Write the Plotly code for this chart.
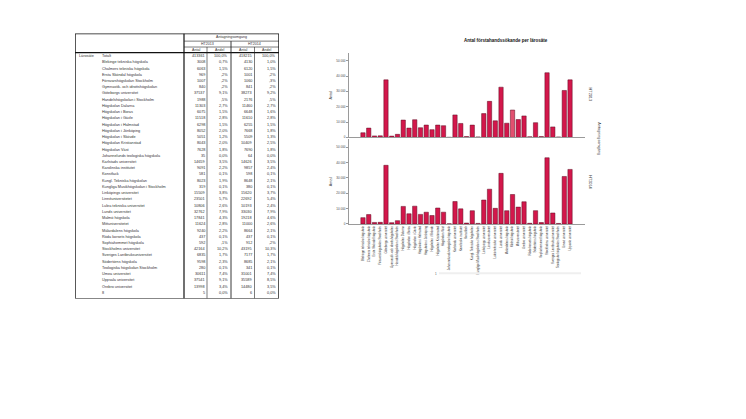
import plotly.graph_objects as go

W, H = 746, 419

# ---------------- data ----------------
table_names = [
    "Totalt", "Blekinge tekniska högskola", "Chalmers tekniska högskola", "Ersta Sköndal högskola",
    "Försvarshögskolan Stockholm", "Gymnastik- och idrottshögskolan", "Göteborgs universitet",
    "Handelshögskolan i Stockholm", "Högskolan Dalarna", "Högskolan i Borås", "Högskolan i Gävle",
    "Högskolan i Halmstad", "Högskolan i Jönköping", "Högskolan i Skövde", "Högskolan Kristianstad",
    "Högskolan Väst", "Johannelunds teologiska högskola", "Karlstads universitet", "Karolinska institutet",
    "Konstfack", "Kungl. Tekniska högskolan", "Kungliga Musikhögskolan i Stockholm",
    "Linköpings universitet", "Linnéuniversitetet", "Luleå tekniska universitet", "Lunds universitet",
    "Malmö högskola", "Mittuniversitetet", "Mälardalens högskola", "Röda korsets högskola",
    "Sophiahemmet högskola", "Stockholms universitet", "Sveriges Lantbruksuniversitet",
    "Södertörns högskola", "Teologiska högskolan Stockholm", "Umeå universitet", "Uppsala universitet",
    "Örebro universitet", "8",
]
antal_ht2013 = [
    413361, 3008, 6063, 969, 1007, 840, 37537, 1988, 11303, 6075, 11518, 6298, 8052, 5051, 8043,
    7628, 35, 14659, 9091, 581, 8023, 319, 15509, 23501, 10806, 32762, 17841, 11624, 9240, 437,
    592, 42164, 6835, 9598, 280, 30611, 37541, 13998, 5,
]
andel_ht2013 = [
    "100,0%", "0,7%", "1,5%", ",2%", ",2%", ",2%", "9,1%", ",5%", "2,7%", "1,5%", "2,8%", "1,5%",
    "2,0%", "1,2%", "2,0%", "1,8%", "0,0%", "3,5%", "2,2%", "0,1%", "1,9%", "0,1%", "3,8%", "5,7%",
    "2,6%", "7,9%", "4,3%", "2,8%", "2,2%", "0,1%", ",1%", "10,2%", "1,7%", "2,3%", "0,1%", "7,4%",
    "9,1%", "3,4%", "0,0%",
]
antal_ht2014 = [
    418215, 4130, 6120, 1001, 1060, 841, 38273, 2176, 11460, 6648, 11610, 6255, 7668, 5509, 10409,
    7690, 64, 14626, 9857, 598, 8648, 380, 15620, 22692, 10193, 33030, 19218, 11000, 8664, 437,
    912, 43195, 7177, 8685, 341, 31001, 35589, 14480, 6,
]
andel_ht2014 = [
    "100,0%", "1,0%", "1,5%", ",2%", ",3%", ",2%", "9,2%", ",5%", "2,7%", "1,6%", "2,8%", "1,5%",
    "1,8%", "1,3%", "2,5%", "1,8%", "0,0%", "3,5%", "2,4%", "0,1%", "2,1%", "0,1%", "3,7%", "5,4%",
    "2,4%", "7,9%", "4,6%", "2,6%", "2,1%", "0,1%", ",2%", "10,3%", "1,7%", "2,1%", "0,1%", "7,4%",
    "8,5%", "3,5%", "0,0%",
]
chart_order = [
    "Blekinge tekniska högskola", "Chalmers tekniska högskola", "Ersta Sköndal högskola",
    "Försvarshögskolan Stockholm", "Göteborgs universitet", "Gymnastik- och idrottshögskolan",
    "Handelshögskolan i Stockholm", "Högskolan Dalarna", "Högskolan i Borås", "Högskolan i Gävle",
    "Högskolan i Halmstad", "Högskolan i Jönköping", "Högskolan i Skövde", "Högskolan Kristianstad",
    "Högskolan Väst", "Johannelunds teologiska högskola", "Karlstads universitet",
    "Karolinska institutet", "Konstfack", "Kungl. Tekniska högskolan",
    "Kungliga Musikhögskolan i Stockholm", "Linköpings universitet", "Linnéuniversitetet",
    "Luleå tekniska universitet", "Lunds universitet", "Mälardalens högskola", "Malmö högskola",
    "Mittuniversitetet", "Örebro universitet", "Röda korsets högskola", "Södertörns högskola",
    "Sophiahemmet högskola", "Stockholms universitet", "Sveriges Lantbruksuniversitet",
    "Teologiska högskolan Stockholm", "Umeå universitet", "Uppsala universitet",
]
y_ticks = [0, 10000, 20000, 30000, 40000, 50000]
panel_labels = ["HT2013", "HT2014"]

# ---------------- helpers ----------------
def fx(p):
    return p / W

def fy(p):
    return 1 - p / H

FONT = "Liberation Sans"
BAR = "#D3174B"
BAR_LIGHT = "#E2506F"
OUTLINE = "#5c0a20"
AXIS = "#9a9a9a"
TXT = "#333"

ht13 = [antal_ht2013[table_names.index(n)] for n in chart_order]
ht14 = [antal_ht2014[table_names.index(n)] for n in chart_order]
colors13 = [BAR] * len(chart_order)
colors13[chart_order.index("Malmö högskola")] = BAR_LIGHT

fig = go.Figure()
fig.add_trace(go.Bar(x=chart_order, y=ht13, xaxis="x", yaxis="y", name=panel_labels[0],
                     marker=dict(color=colors13, line=dict(color=OUTLINE, width=0.5)),
                     showlegend=False))
fig.add_trace(go.Bar(x=chart_order, y=ht14, xaxis="x2", yaxis="y2", name=panel_labels[1],
                     marker=dict(color=BAR, line=dict(color=OUTLINE, width=0.5)),
                     showlegend=False))
# invisible anchor for table axes
fig.add_trace(go.Scatter(x=[67, 271], y=[25.7, 292], xaxis="x3", yaxis="y3", mode="markers",
                         marker=dict(opacity=0), hoverinfo="skip", showlegend=False))

x_common = dict(type="category", categoryorder="array", categoryarray=chart_order,
                range=[-2.43, 38.6], showgrid=False, zeroline=False, showline=True,
                linecolor=AXIS, linewidth=0.8, ticks="", fixedrange=True)
y_common = dict(range=[0, 55200], tickvals=y_ticks, tickformat=",d", ticks="outside",
                ticklen=2, tickcolor=AXIS, tickwidth=0.6,
                tickfont=dict(size=3, color="#444", family=FONT),
                showline=True, linecolor=AXIS, linewidth=0.8, showgrid=False,
                zeroline=False, fixedrange=True)

layout = dict(
    width=W, height=H, margin=dict(l=0, r=0, t=0, b=0),
    paper_bgcolor="white", plot_bgcolor="white",
    separators=", ", bargap=0.25,
    font=dict(family=FONT, color=TXT),
    xaxis=dict(domain=[fx(341), fx(577)], anchor="y", showticklabels=False, **x_common),
    yaxis=dict(domain=[fy(130), fy(45)], anchor="x", **y_common),
    xaxis2=dict(domain=[fx(341), fx(577)], anchor="y2", showticklabels=True, tickangle=-90,
                tickfont=dict(size=2.9, color=TXT, family=FONT), **x_common),
    yaxis2=dict(domain=[fy(217), fy(132)], anchor="x2", **y_common),
    xaxis3=dict(domain=[fx(67), fx(271)], anchor="y3", range=[67, 271], visible=False,
                fixedrange=True),
    yaxis3=dict(domain=[fy(292), fy(25.7)], anchor="x3", range=[292, 25.7], visible=False,
                fixedrange=True),
)

ann = []
def A(x, y, text, size=3.8, xanchor="left", xref="x3", yref="y3", angle=0, color=TXT):
    ann.append(dict(x=x, y=y, xref=xref, yref=yref, text=text, showarrow=False,
                    xanchor=xanchor, yanchor="middle", textangle=angle, borderpad=0,
                    font=dict(size=size, color=color, family=FONT)))

# chart texts
A(fx(498), fy(33), "<b>Antal förstahandssökande per lärosäte</b>", size=4.5, xanchor="center",
  xref="paper", yref="paper", color="#111")
A(fx(323), fy(88), "Antal", size=3.8, xanchor="center", xref="paper", yref="paper", angle=-90)
A(fx(323), fy(175), "Antal", size=3.8, xanchor="center", xref="paper", yref="paper", angle=-90)
A(fx(582), fy(87), panel_labels[0], size=3.8, xanchor="center", xref="paper", yref="paper", angle=90)
A(fx(582), fy(175), panel_labels[1], size=3.8, xanchor="center", xref="paper", yref="paper", angle=90)
A(fx(591), fy(131), "Antagningsomgång", size=3.8, xanchor="center", xref="paper", yref="paper",
  angle=90)
A(fx(428), fy(267), "1", size=3, xanchor="center", xref="paper", yref="paper", color="#555")

# table title
A(169, 21.5, "<b>Antal förstahandssökande (oavsett om de är behöriga eller ej) per lärosäte</b>",
  size=4.0, xanchor="center", color="#111")
# headers
A(223, 29.5, "Antagningsomgång", size=3.6, xanchor="center")
A(199.5, 36.2, panel_labels[0], size=3.6, xanchor="center")
A(246.5, 36.2, panel_labels[1], size=3.6, xanchor="center")
for cx, t in [(187.5, "Antal"), (211, "Andel"), (234.5, "Antal"), (258, "Andel")]:
    A(cx, 42, t, size=3.6, xanchor="center")

row0, rowh = 48.3, 6.26
A(69.5, row0, "Lärosäte", size=3.8)
for i, name in enumerate(table_names):
    y = row0 + i * rowh
    A(93, y, name)
    A(197.5, y, str(antal_ht2013[i]), xanchor="right")
    A(221, y, andel_ht2013[i], xanchor="right")
    A(244.5, y, str(antal_ht2014[i]), xanchor="right")
    A(268.5, y, andel_ht2014[i], xanchor="right")

shapes = []
def L(x0, y0, x1, y1, w=0.6, color="#222", xref="x3", yref="y3"):
    shapes.append(dict(type="line", x0=x0, y0=y0, x1=x1, y1=y1, xref=xref, yref=yref,
                       line=dict(color=color, width=w)))

# outer frame
shapes.append(dict(type="rect", x0=67, y0=25.7, x1=271, y1=292, xref="x3", yref="y3",
                   line=dict(color="#111", width=1.4)))
L(67, 44.8, 271, 44.8, w=1.2, color="#111")
L(176, 25.7, 176, 292, w=1.2, color="#111")
L(176, 33.3, 271, 33.3)
L(176, 39.2, 271, 39.2)
L(223, 33.3, 223, 292, w=0.9)
L(199, 39.2, 199, 292)
L(246.5, 39.2, 246.5, 292)

# faint strip under the chart
L(fx(431), fy(266.5), fx(573), fy(266.5), w=2, color="#efefef", xref="paper", yref="paper")

layout["annotations"] = ann
layout["shapes"] = shapes
fig.update_layout(**layout)

fig.write_html("out.html")
